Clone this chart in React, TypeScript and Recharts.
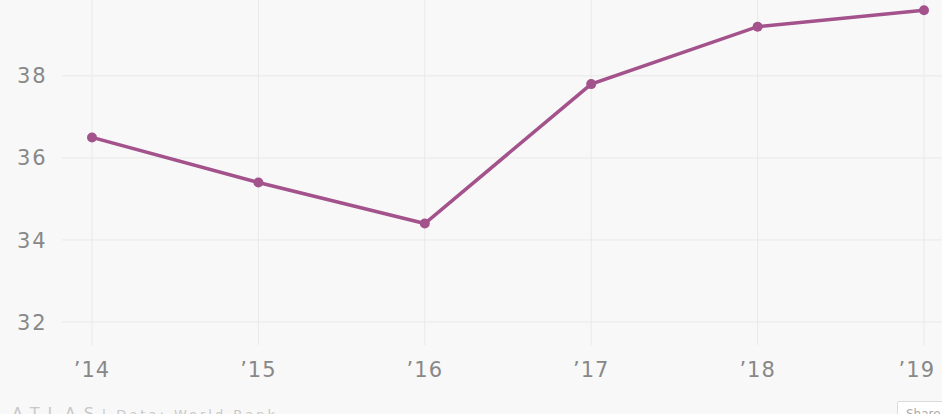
import React from 'react';
import { LineChart, Line, XAxis, YAxis, ReferenceLine } from 'recharts';

const years = [2014, 2015, 2016, 2017, 2018, 2019];
const values = [36.5, 35.4, 34.4, 37.8, 39.2, 39.6];
const yTicks = [32, 34, 36, 38];

const data = years.map((year, i) => ({ year, value: values[i] }));

const LINE = '#a3528b';
const TICK = '#888888';
const GRID = '#e9e9e9';
const FONT = '"DejaVu Sans", sans-serif';

const YTick = ({ y, payload }: any) => (
  <text x={17} y={y} dy="0.36em" textAnchor="start" fill={TICK} fontSize={21} fontFamily={FONT} letterSpacing={2}>
    {payload.value}
  </text>
);

// last label is pulled in so it stays inside the frame
const XTick = ({ x, y, payload }: any) => {
  const last = payload.value === years[years.length - 1];
  return (
    <text
      x={last ? x + 11 : x}
      y={y}
      dy="0.71em"
      textAnchor={last ? 'end' : 'middle'}
      fill={TICK}
      fontSize={21}
      fontFamily={FONT}
      letterSpacing={1}
    >
      {'\u2019' + String(payload.value).slice(2)}
    </text>
  );
};

const App = () => (
  <div
    style={{
      position: 'absolute',
      left: 0,
      top: 0,
      width: 942,
      height: 414,
      overflow: 'hidden',
      background: '#f8f8f8',
    }}
  >
    <LineChart width={942} height={414} data={data} margin={{ top: 0, right: 0, bottom: 19, left: 0 }}>
      <XAxis
        dataKey="year"
        type="number"
        domain={[2014, 2019]}
        ticks={years}
        padding={{ left: 30, right: 18 }}
        height={50}
        axisLine={false}
        tickLine={false}
        tickSize={0}
        tickMargin={17}
        tick={<XTick />}
      />
      <YAxis
        type="number"
        domain={[31.44, 39.85]}
        allowDataOverflow
        ticks={yTicks}
        width={62}
        axisLine={false}
        tickLine={false}
        tick={<YTick />}
      />
      {yTicks.map((t) => (
        <ReferenceLine key={'h' + t} y={t} stroke={GRID} strokeWidth={1} />
      ))}
      {years.map((t) => (
        <ReferenceLine key={'v' + t} x={t} stroke={GRID} strokeWidth={1} />
      ))}
      <Line
        type="linear"
        dataKey="value"
        stroke={LINE}
        strokeWidth={3.5}
        dot={{ r: 5, fill: LINE, stroke: LINE, strokeWidth: 0 }}
        activeDot={false}
        isAnimationActive={false}
      />
    </LineChart>
    <div
      style={{
        position: 'absolute',
        left: 12,
        top: 404,
        fontFamily: FONT,
        fontSize: 16,
        color: '#c8c8c8',
        letterSpacing: 8,
        whiteSpace: 'nowrap',
      }}
    >
      ATLAS<span style={{ letterSpacing: 3, fontSize: 13 }}>| Data: World Bank</span>
    </div>
    <div
      style={{
        position: 'absolute',
        left: 897,
        top: 401,
        padding: '5px 8px',
        border: '1px solid #dcdcdc',
        borderRadius: 2,
        background: '#ffffff',
        fontFamily: FONT,
        fontSize: 12,
        color: '#aaa',
      }}
    >
      Share
    </div>
  </div>
);

export default App;
